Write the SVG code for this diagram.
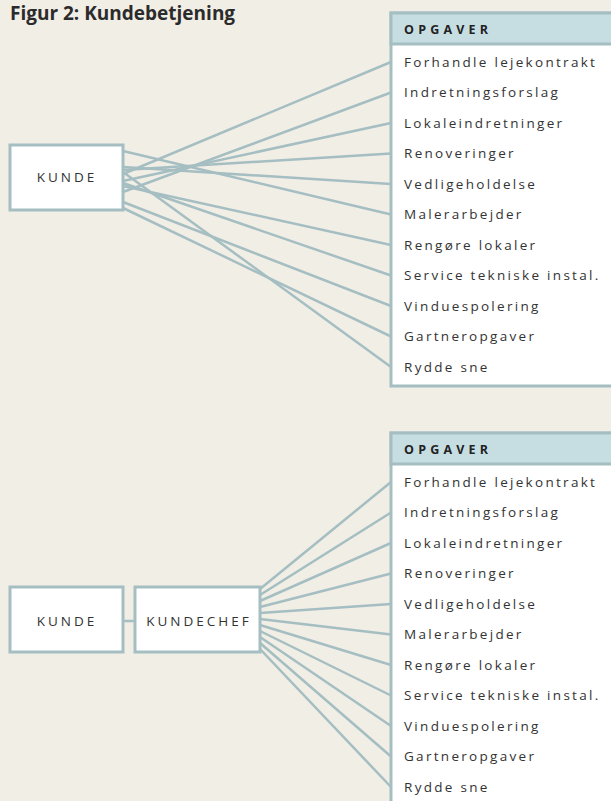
<svg xmlns="http://www.w3.org/2000/svg" width="611" height="801" viewBox="0 0 611 801">
<style>
.bg{fill:#f1eee6}
.box{fill:#ffffff;stroke:#a5bec2;stroke-width:3}
.hdr{fill:#c6dee2;stroke:#a5bec2;stroke-width:3}
.ln{stroke:#a5bec2;stroke-width:2.5;fill:none}
.title{font-family:"Open Sans",sans-serif;font-weight:bold;font-size:19px;fill:#2b2b2b}
.node{font-family:"Open Sans",sans-serif;font-size:13.5px;letter-spacing:3px;fill:#333;text-anchor:middle}
.h{font-family:"Open Sans",sans-serif;font-weight:bold;font-size:12.5px;letter-spacing:4.2px;fill:#222}
.t{font-family:"Open Sans",sans-serif;font-size:13.5px;letter-spacing:2.3px;fill:#333}
</style>
<rect class="bg" x="0" y="0" width="611" height="801"/>
<text class="title" x="10" y="19.5">Figur 2: Kundebetjening</text>

<g id="connectors">
  <line class="ln" x1="123" y1="174" x2="391" y2="62"/>
  <line class="ln" x1="123" y1="192" x2="391" y2="92.5"/>
  <line class="ln" x1="123" y1="181" x2="391" y2="123"/>
  <line class="ln" x1="123" y1="170" x2="391" y2="153.5"/>
  <line class="ln" x1="123" y1="167" x2="391" y2="184"/>
  <line class="ln" x1="123" y1="151" x2="391" y2="214.5"/>
  <line class="ln" x1="123" y1="186" x2="391" y2="245"/>
  <line class="ln" x1="123" y1="183" x2="391" y2="275.5"/>
  <line class="ln" x1="123" y1="202" x2="391" y2="306"/>
  <line class="ln" x1="123" y1="208" x2="391" y2="336.5"/>
  <line class="ln" x1="123" y1="172" x2="391" y2="367"/>

  <line class="ln" x1="123" y1="621" x2="135" y2="621"/>

  <line class="ln" x1="260" y1="589" x2="391" y2="482"/>
  <line class="ln" x1="260" y1="595" x2="391" y2="512.5"/>
  <line class="ln" x1="260" y1="601" x2="391" y2="543"/>
  <line class="ln" x1="260" y1="607" x2="391" y2="573.5"/>
  <line class="ln" x1="260" y1="613" x2="391" y2="604"/>
  <line class="ln" x1="260" y1="619" x2="391" y2="634.5"/>
  <line class="ln" x1="260" y1="625" x2="391" y2="665"/>
  <line class="ln" x1="260" y1="631" x2="391" y2="695.5"/>
  <line class="ln" x1="260" y1="637" x2="391" y2="726"/>
  <line class="ln" x1="260" y1="643" x2="391" y2="756.5"/>
  <line class="ln" x1="260" y1="649" x2="391" y2="787"/>
</g>

<g id="kunde1">
  <rect class="box" x="10" y="145" width="113" height="65"/>
  <text class="node" x="67" y="182">KUNDE</text>
</g>

<g id="opgaver1">
  <rect class="box" x="391" y="13" width="230" height="373"/>
  <rect class="hdr" x="391" y="13" width="230" height="31"/>
  <text class="h" x="404" y="33.5">OPGAVER</text>
  <text class="t" x="404" y="66.5">Forhandle lejekontrakt</text>
  <text class="t" x="404" y="97">Indretningsforslag</text>
  <text class="t" x="404" y="127.5">Lokaleindretninger</text>
  <text class="t" x="404" y="158">Renoveringer</text>
  <text class="t" x="404" y="188.5">Vedligeholdelse</text>
  <text class="t" x="404" y="219">Malerarbejder</text>
  <text class="t" x="404" y="249.5">Rengøre lokaler</text>
  <text class="t" x="404" y="280">Service tekniske instal.</text>
  <text class="t" x="404" y="310.5">Vinduespolering</text>
  <text class="t" x="404" y="341">Gartneropgaver</text>
  <text class="t" x="404" y="371.5">Rydde sne</text>
</g>

<g id="kunde2">
  <rect class="box" x="10" y="587" width="113" height="65"/>
  <text class="node" x="67" y="626">KUNDE</text>
</g>

<g id="kundechef">
  <rect class="box" x="135" y="587" width="125" height="65"/>
  <text class="node" x="199" y="626">KUNDECHEF</text>
</g>

<g id="opgaver2">
  <rect class="box" x="391" y="433" width="230" height="380"/>
  <rect class="hdr" x="391" y="433" width="230" height="31"/>
  <text class="h" x="404" y="453.5">OPGAVER</text>
  <text class="t" x="404" y="486.5">Forhandle lejekontrakt</text>
  <text class="t" x="404" y="517">Indretningsforslag</text>
  <text class="t" x="404" y="547.5">Lokaleindretninger</text>
  <text class="t" x="404" y="578">Renoveringer</text>
  <text class="t" x="404" y="608.5">Vedligeholdelse</text>
  <text class="t" x="404" y="639">Malerarbejder</text>
  <text class="t" x="404" y="669.5">Rengøre lokaler</text>
  <text class="t" x="404" y="700">Service tekniske instal.</text>
  <text class="t" x="404" y="730.5">Vinduespolering</text>
  <text class="t" x="404" y="761">Gartneropgaver</text>
  <text class="t" x="404" y="791.5">Rydde sne</text>
</g>
</svg>
